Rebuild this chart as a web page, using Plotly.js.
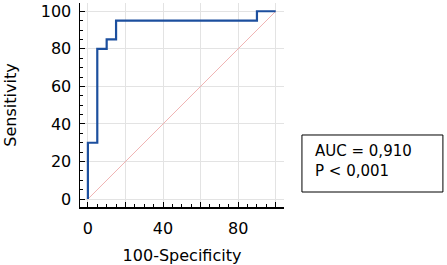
<!DOCTYPE html>
<html>
<head>
<meta charset="utf-8">
<script src="https://cdn.plot.ly/plotly-3.0.1.min.js"></script>
<style>html,body{margin:0;padding:0;background:#fff;}#chart{width:447px;height:265px;}</style>
</head>
<body>
<div id="chart"></div>
<script>
// ROC curve step points (100-Specificity, Sensitivity)
const rocX = [0, 0, 5, 10, 15, 90, 100];
const rocY = [0, 30, 80, 85, 95, 100, 100];
// reference diagonal
const diagX = [0, 100];
const diagY = [0, 100];
// ticks
const xTickVals = [0, 20, 40, 60, 80, 100];
const xTickText = ['0', '', '40', '', '80', ''];
const yTickVals = [0, 20, 40, 60, 80, 100];
const yTickText = ['0', '20', '40', '60', '80', '100'];
const boxLines = ['AUC = 0,910', 'P < 0,001'];

const FONT = 'DejaVu Sans, Liberation Sans, Arial, sans-serif';

const traces = [
  {x: diagX, y: diagY, mode: 'lines', line: {color: '#f0b4b4', width: 1}, hoverinfo: 'skip'},
  {x: rocX, y: rocY, mode: 'lines', line: {color: '#1c4f9e', width: 2.2, shape: 'hv'}}
];

const axisCommon = {
  range: [-4.2, 104.4],
  showline: true, linecolor: '#000', linewidth: 1.5,
  ticks: 'inside', ticklen: 5, tickcolor: '#000', tickwidth: 1,
  showgrid: true, gridcolor: '#e3e3e3', gridwidth: 1,
  zeroline: false,
  tickmode: 'array',
  minor: {dtick: 5, tick0: 0, ticks: 'inside', ticklen: 3, tickcolor: '#000', showgrid: false},
  tickfont: {family: FONT, size: 16, color: '#000'},
  fixedrange: true
};

const layout = {
  width: 447, height: 265,
  margin: {l: 80, r: 163, t: 3, b: 58},
  paper_bgcolor: '#fff', plot_bgcolor: '#fff',
  showlegend: false,
  xaxis: Object.assign({}, axisCommon, {
    tickvals: xTickVals, ticktext: xTickText,
    ticklabelstandoff: 6,
    title: {text: '100-Specificity', font: {family: FONT, size: 16, color: '#000'}, standoff: 14}
  }),
  yaxis: Object.assign({}, axisCommon, {
    tickvals: yTickVals, ticktext: yTickText,
    ticklabelstandoff: 4,
    title: {text: 'Sensitivity', font: {family: FONT, size: 16, color: '#000'}, standoff: 20}
  }),
  shapes: [{
    type: 'rect', xref: 'paper', yref: 'paper',
    x0: 1.088, x1: 1.779, y0: 0.0735, y1: 0.353,
    line: {color: '#000', width: 1}, fillcolor: 'rgba(0,0,0,0)'
  }],
  annotations: [{
    xref: 'paper', yref: 'paper', x: 1.141, y: 0.2255,
    xanchor: 'left', yanchor: 'middle', align: 'left', showarrow: false,
    text: boxLines.join('<br>'),
    font: {family: FONT, size: 15, color: '#000'}
  }]
};

Plotly.newPlot('chart', traces, layout, {displayModeBar: false, staticPlot: true});
</script>
</body>
</html>
